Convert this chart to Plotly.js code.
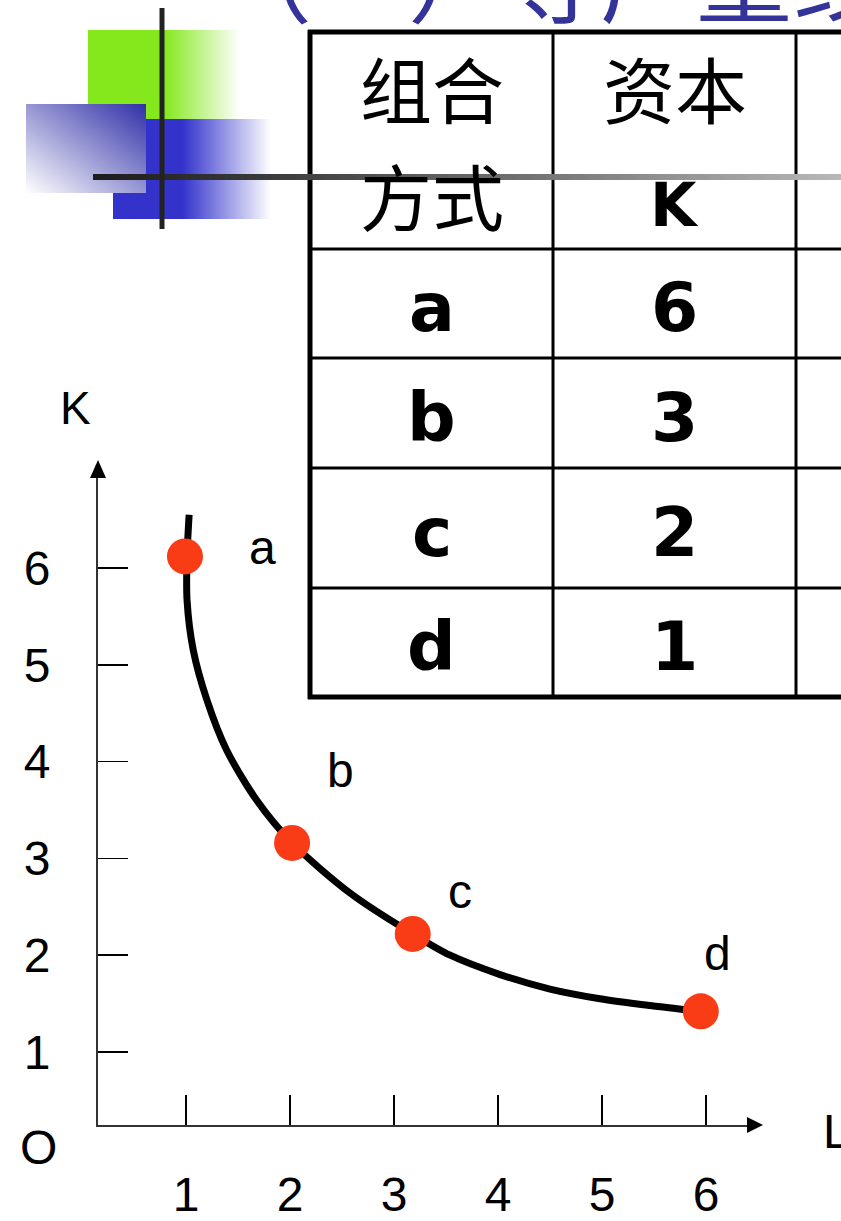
<!DOCTYPE html>
<html>
<head>
<meta charset="utf-8">
<script src="https://cdn.plot.ly/plotly-3.0.1.min.js"></script>
<style>html,body{margin:0;padding:0;background:#fff;}#chart{width:841px;height:1221px;}</style>
</head>
<body>
<div id="chart"></div>
<script>
// ---------- data ----------
const combos = ['a', 'b', 'c', 'd'];            // 组合方式
const capitalK = [6, 3, 2, 1];                  // 资本 K (table)
const headerCol1 = ['组合', '方式'];
const headerCol2 = ['资本', 'K'];
// positions of the dots
const dotL = [0.99, 2.02, 3.18, 5.95];
const dotK = [6.12, 3.16, 2.22, 1.42];
// isoquant curve
const curveL = [1.03, 1.01, 1.01, 1.07, 1.20, 1.39, 1.68, 2.02, 2.58, 3.18, 3.54, 4.02, 4.50, 4.98, 5.46, 5.94];
const curveK = [6.55, 6.12, 5.67, 5.15, 4.64, 4.12, 3.60, 3.16, 2.64, 2.22, 2.00, 1.80, 1.65, 1.55, 1.48, 1.42];
const tickVals = [1, 2, 3, 4, 5, 6];
const tickText = ['1', '2', '3', '4', '5', '6'];
const titleText = '（一）等产量线';

// ---------- page geometry helpers ----------
const W = 841, H = 1221;
const fx = p => p / W;
const fy = p => 1 - p / H;
// axis scales (pixel <-> value), px of value 1 and step per unit
const X1 = 186, XS = 104, Y1 = 1052, YS = 96.8;
const vx = p => 1 + (p - X1) / XS;
const vy = p => 1 + (Y1 - p) / YS;

const AX_L = 98, AX_R = 750, AX_B = 1125, AX_T = 476;

const svgURI = s => 'data:image/svg+xml;charset=utf-8,' + encodeURIComponent(s);
function gradRect(w, h, x1, y1, x2, y2, stops) {
  const st = stops.map(s => `<stop offset="${s[0]}" stop-color="${s[1]}"/>`).join('');
  return svgURI(`<svg xmlns="http://www.w3.org/2000/svg" width="${w}" height="${h}" viewBox="0 0 ${w} ${h}" preserveAspectRatio="none"><defs><linearGradient id="g" x1="${x1}" y1="${y1}" x2="${x2}" y2="${y2}">${st}</linearGradient></defs><rect x="0" y="0" width="${w}" height="${h}" fill="url(#g)"/></svg>`);
}
function img(src, left, top, w, h, layer) {
  return {source: src, xref: 'paper', yref: 'paper', x: fx(left), y: fy(top),
    sizex: w / W, sizey: h / H, xanchor: 'left', yanchor: 'top', sizing: 'stretch', layer: layer};
}

const images = [
  img(gradRect(152, 90, 0, 0, 1, 0, [[0, '#84e81c'], [0.5, '#84e81c'], [1, '#ffffff']]), 88, 30, 152, 90, 'below'),
  img(gradRect(158, 100, 0, 0, 1, 0, [[0, '#3333cc'], [0.44, '#3333cc'], [1, '#ffffff']]), 113, 119, 158, 100, 'below'),
  img(gradRect(120, 89, 0, 1, 1, 0, [[0, '#ffffff'], [1, '#3030a8']]), 26, 104, 120, 89, 'below'),
  img(gradRect(748, 6, 0, 0, 1, 0, [[0, '#1c1c1c'], [0.3, '#444444'], [1, '#b8b8b8']]), 93, 174, 748, 6, 'above')
];

// ---------- table (lines) ----------
const T_L = 310, T_R = 841, T_T = 32, T_B = 697;
const colX = [553, 796];
const rowY = [249, 358, 468, 588];
const shapes = [];
function hl(y, x0, x1, w, layer) {
  shapes.push({type: 'line', xref: 'paper', yref: 'paper', x0: fx(x0), x1: fx(x1), y0: fy(y), y1: fy(y),
    line: {color: '#000', width: w}, layer: layer || 'below'});
}
function vl(x, y0, y1, w, layer, color) {
  shapes.push({type: 'line', xref: 'paper', yref: 'paper', x0: fx(x), x1: fx(x), y0: fy(y0), y1: fy(y1),
    line: {color: color || '#000', width: w}, layer: layer || 'below'});
}
colX.forEach(x => vl(x, T_T, T_B, 3));
rowY.forEach(y => hl(y, T_L, T_R, 3));
vl(T_L, T_T - 2, T_B + 2, 5);
hl(T_T, T_L - 2, T_R, 5);
hl(T_B, T_L - 2, T_R, 5);
// decorative vertical bar
vl(162, 8, 229, 5, 'above', '#222');
// axis arrowheads
shapes.push({type: 'path', xref: 'paper', yref: 'paper',
  path: `M ${fx(AX_R - 3)} ${fy(AX_B - 8)} L ${fx(AX_R + 13)} ${fy(AX_B)} L ${fx(AX_R - 3)} ${fy(AX_B + 8)} Z`,
  fillcolor: '#000', line: {width: 0}, layer: 'above'});
shapes.push({type: 'path', xref: 'paper', yref: 'paper',
  path: `M ${fx(AX_L - 8)} ${fy(AX_T + 2)} L ${fx(AX_L)} ${fy(AX_T - 16)} L ${fx(AX_L + 8)} ${fy(AX_T + 2)} Z`,
  fillcolor: '#000', line: {width: 0}, layer: 'above'});

// ---------- annotations ----------
const ann = [];
const cjk = '"Noto Sans CJK SC", "Noto Sans CJK JP", sans-serif';
const bold = '"DejaVu Sans", Verdana, sans-serif';
const plain = '"Liberation Sans", Arial, sans-serif';
function txt(t, x, y, font, opts) {
  ann.push(Object.assign({text: t, xref: 'paper', yref: 'paper', x: fx(x), y: fy(y),
    xanchor: 'center', yanchor: 'middle', showarrow: false, font: font}, opts || {}));
}
// title (cut by the top edge)
txt(titleText, 214, 45, {family: cjk, size: 96, color: '#333399'}, {xanchor: 'left', yanchor: 'bottom'});
// table header
const c1 = (T_L + colX[0]) / 2, c2 = (colX[0] + colX[1]) / 2;
txt(headerCol1[0], c1, 87, {family: cjk, size: 72, color: '#000'});
txt(headerCol1[1], c1, 194, {family: cjk, size: 72, color: '#000'});
txt(headerCol2[0], c2, 87, {family: cjk, size: 72, color: '#000'});
txt(headerCol2[1], c2, 205, {family: bold, size: 60, color: '#000', weight: 700});
// table body
const rowEdges = rowY.concat([T_B]);
combos.forEach((c, i) => {
  const yc = (rowEdges[i] + rowEdges[i + 1]) / 2 + 4;
  txt(c, c1, yc, {family: bold, size: 68, color: '#000', weight: 700});
  txt(String(capitalK[i]), c2, yc, {family: bold, size: 68, color: '#000', weight: 700});
});
// axis letters
txt('K', 75, 408, {family: plain, size: 46, color: '#000'});
txt('O', 38, 1147, {family: plain, size: 48, color: '#000'});
txt('L', 821, 1131, {family: plain, size: 48, color: '#000'}, {xanchor: 'left'});
// point labels (offsets in px from each dot)
const labShift = [[78, 9], [48, 72], [47, 42], [17, 58]];
combos.forEach((c, i) => {
  ann.push({text: c, xref: 'x', yref: 'y', x: dotL[i], y: dotK[i], xshift: labShift[i][0], yshift: labShift[i][1],
    xanchor: 'center', yanchor: 'middle', showarrow: false, font: {family: plain, size: 48, color: '#000'}});
});

// ---------- traces ----------
const traces = [
  {x: curveL, y: curveK, type: 'scatter', mode: 'lines', line: {color: '#000', width: 7, shape: 'spline', smoothing: 0.8},
   hoverinfo: 'skip', cliponaxis: false},
  {x: dotL, y: dotK, type: 'scatter', mode: 'markers', text: combos,
   marker: {size: 36, color: '#f93b16', line: {width: 0}}, cliponaxis: false}
];

const axFont = {family: plain, size: 48, color: '#000'};
const layout = {
  width: W, height: H,
  margin: {l: 0, r: 0, t: 0, b: 0, pad: 0},
  paper_bgcolor: '#ffffff', plot_bgcolor: 'rgba(0,0,0,0)',
  showlegend: false,
  xaxis: {domain: [fx(AX_L), fx(AX_R)], range: [vx(AX_L), vx(AX_R)], showgrid: false, zeroline: false,
    showline: true, linecolor: '#333', linewidth: 2, ticks: 'inside', ticklen: 30, tickwidth: 1.5, tickcolor: '#000',
    tickvals: tickVals, ticktext: tickText, tickfont: axFont, ticklabelstandoff: 26, fixedrange: true},
  yaxis: {domain: [fy(AX_B), fy(AX_T)], range: [vy(AX_B), vy(AX_T)], showgrid: false, zeroline: false,
    showline: true, linecolor: '#333', linewidth: 2, ticks: 'inside', ticklen: 30, tickwidth: 1.5, tickcolor: '#000',
    tickvals: tickVals, ticktext: tickText, tickfont: axFont, ticklabelstandoff: 36, fixedrange: true},
  shapes: shapes, annotations: ann, images: images
};

Plotly.newPlot('chart', traces, layout, {staticPlot: true, displayModeBar: false});
</script>
</body>
</html>
